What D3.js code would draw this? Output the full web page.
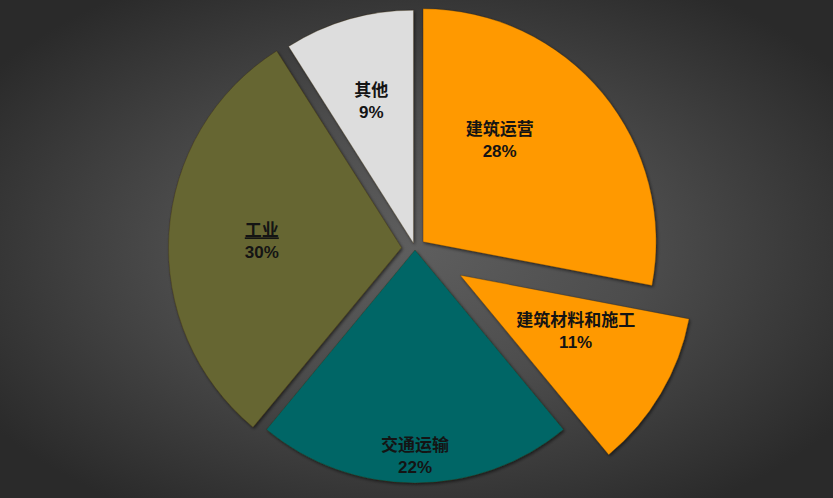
<!DOCTYPE html>
<html>
<head>
<meta charset="utf-8">
<script src="https://cdn.jsdelivr.net/npm/d3@7"></script>
<style>
  html, body { margin: 0; padding: 0; overflow: hidden; background: #333; }
  svg { display: block; }
</style>
</head>
<body>
<script>
// ---- data ----
const categories = ["建筑运营", "建筑材料和施工", "交通运输", "工业", "其他"];
const values = [28, 11, 22, 30, 9];
const percentLabels = ["28%", "11%", "22%", "30%", "9%"];
const sliceColors = ["#FF9900", "#FF9900", "#006666", "#666633", "#DDDDDD"];

// ---- layout (styles, not data) ----
const W = 833, H = 498;
const cx = 415, cy = 248.5, R = 233;
const explode = [10.5, 52.5, 1.5, 13.5, 5.5];
// label placement relative to each slice's apex: radius, angle shift (deg)
const labelRadius = [129, 127, 204, 140, 151];
const labelShift = [-14, -6, 0, 0, 0];

const svg = d3.select("body").append("svg").attr("width", W).attr("height", H);
const defs = svg.append("defs");
const grad = defs.append("radialGradient").attr("id", "bg")
  .attr("cx", cx / W).attr("cy", cy / H).attr("r", 0.62)
  .attr("gradientUnits", "objectBoundingBox");
grad.append("stop").attr("offset", "0%").attr("stop-color", "#5e5e5e");
grad.append("stop").attr("offset", "45%").attr("stop-color", "#4c4c4c");
grad.append("stop").attr("offset", "100%").attr("stop-color", "#2a2a2a");

const shadow = defs.append("filter").attr("id", "shadow")
  .attr("x", "-20%").attr("y", "-20%").attr("width", "140%").attr("height", "140%");
shadow.append("feDropShadow").attr("dx", 1.2).attr("dy", 1.5).attr("stdDeviation", 1.8)
  .attr("flood-color", "#000").attr("flood-opacity", 0.55);

svg.append("rect").attr("width", W).attr("height", H).attr("fill", "url(#bg)");

const table = categories.map((c, i) => ({ name: c, value: values[i], pct: percentLabels[i], color: sliceColors[i], i }));

const pie = d3.pie().sort(null).value(d => d.value).startAngle(0).endAngle(2 * Math.PI);
const arc = d3.arc().innerRadius(0).outerRadius(R);
const arcs = pie(table);

const g = svg.append("g").attr("transform", `translate(${cx},${cy})`);

const slice = g.selectAll("g.slice").data(arcs).enter().append("g")
  .attr("class", "slice")
  .attr("transform", d => {
    const mid = (d.startAngle + d.endAngle) / 2;
    const e = explode[d.data.i];
    return `translate(${e * Math.sin(mid)},${-e * Math.cos(mid)})`;
  });

slice.append("path")
  .attr("d", arc)
  .attr("fill", d => d.data.color)
  .attr("stroke", "rgba(60,40,0,0.35)")
  .attr("stroke-width", 0.8)
  .attr("filter", "url(#shadow)");

const lbl = slice.append("text")
  .attr("font-family", "'Liberation Sans', Arial, 'Noto Sans CJK SC', sans-serif")
  .attr("font-weight", "bold")
  .attr("font-size", 17)
  .attr("fill", "#141414")
  .attr("text-anchor", "middle")
  .attr("transform", d => {
    const mid = (d.startAngle + d.endAngle) / 2 + labelShift[d.data.i] * Math.PI / 180;
    const r = labelRadius[d.data.i];
    return `translate(${r * Math.sin(mid)},${-r * Math.cos(mid)})`;
  });

lbl.append("tspan").attr("x", 0).attr("dy", "-0.15em")
  .attr("font-family", "'Noto Sans CJK SC', sans-serif")
  .attr("text-decoration", d => d.data.name === "工业" ? "underline" : null)
  .text(d => d.data.name);
lbl.append("tspan").attr("x", 0).attr("dy", 22)
  .text(d => d.data.pct);
</script>
</body>
</html>
